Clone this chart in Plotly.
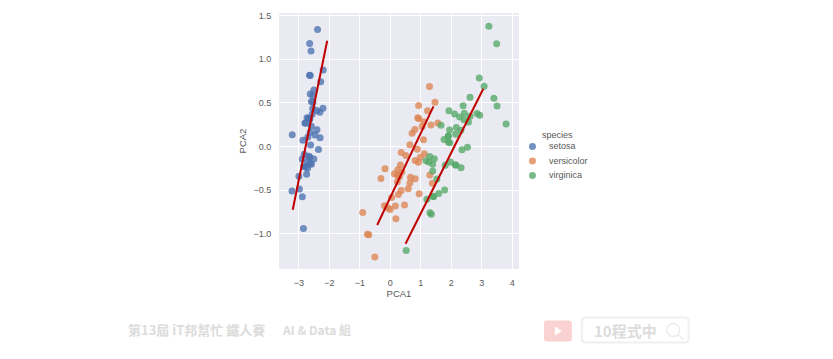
import plotly.graph_objects as go

W, H = 833, 359
L, R, T, B = 278.5, 519.0, 12.7, 269.3

# Values
setosa_pca1 = [-2.684,-2.714,-2.889,-2.745,-2.729,-2.281,-2.821,-2.626,-2.886,-2.673,-2.507,-2.613,-2.786,-3.224,-2.645,-2.386,-2.624,-2.648,-2.200,-2.588,-2.310,-2.544,-3.216,-2.303,-2.356,-2.507,-2.469,-2.562,-2.640,-2.632,-2.587,-2.410,-2.649,-2.599,-2.637,-2.866,-2.625,-2.801,-2.981,-2.590,-2.770,-2.849,-2.997,-2.406,-2.209,-2.714,-2.538,-2.839,-2.543,-2.703]
setosa_pca2 = [0.319,-0.177,-0.145,-0.318,0.327,0.741,-0.089,0.163,-0.578,-0.114,0.645,0.015,-0.235,-0.511,1.179,1.338,0.811,0.312,0.873,0.514,0.391,0.433,0.133,0.099,-0.037,-0.146,0.131,0.368,0.312,-0.197,-0.204,0.411,0.813,1.093,-0.121,0.069,0.599,0.269,-0.488,0.229,0.264,-0.941,-0.342,0.189,0.437,-0.250,0.504,-0.228,0.579,0.108]
versicolor_pca1 = [1.285,0.932,1.464,0.183,1.088,0.642,1.095,-0.749,1.044,-0.009,-0.508,0.512,0.265,0.985,-0.174,0.928,0.660,0.236,0.945,0.045,1.116,0.358,1.298,0.922,0.715,0.900,1.332,1.558,0.813,-0.306,-0.068,-0.190,0.136,1.380,0.588,0.807,1.221,0.815,0.246,0.166,0.465,0.891,0.231,-0.705,0.357,0.332,0.376,0.643,-0.906,0.299]
versicolor_pca2 = [0.685,0.318,0.504,-0.828,0.075,-0.418,0.283,-1.005,0.228,-0.723,-1.266,-0.104,-0.550,-0.125,-0.255,0.467,-0.353,-0.334,-0.543,-0.584,-0.085,-0.069,-0.328,-0.183,0.149,0.329,0.244,0.267,-0.163,-0.368,-0.705,-0.680,-0.314,-0.421,-0.484,0.194,0.408,-0.372,-0.269,-0.682,-0.671,-0.034,-0.404,-1.012,-0.505,-0.213,-0.293,0.018,-0.756,-0.349]
virginica_pca1 = [2.531,1.415,2.617,1.972,2.350,3.397,0.521,2.933,2.321,2.917,1.662,1.803,2.166,1.346,1.586,1.904,1.950,3.487,3.796,1.301,2.428,1.199,3.500,1.389,2.275,2.614,1.259,1.291,2.124,2.388,2.842,3.231,2.159,1.444,1.781,3.076,2.144,1.905,1.169,2.108,2.314,1.922,1.415,2.563,2.419,1.944,1.527,1.764,1.901,1.390]
virginica_pca2 = [-0.010,-0.575,0.344,-0.180,-0.040,0.551,-1.193,0.356,-0.244,0.783,0.242,-0.216,0.216,-0.777,-0.540,0.119,0.042,1.176,0.257,-0.761,0.378,-0.606,0.461,-0.204,0.335,0.561,-0.180,-0.117,-0.210,0.465,0.375,1.374,-0.217,-0.143,-0.500,0.688,0.140,0.049,-0.165,0.372,0.184,0.409,-0.575,0.278,0.305,0.188,-0.375,0.079,0.117,-0.283]
setosa_line_x, setosa_line_y = [-3.2, -2.07], [-0.725, 1.21]
versicolor_line_x, versicolor_line_y = [-0.43, 1.415], [-0.90, 0.458]
virginica_line_x, virginica_line_y = [0.5, 3.05], [-1.115, 0.66]
species = ["setosa", "versicolor", "virginica"]
colors = ["#4c72b0", "#dd8452", "#55a868"]
x_ticks = [-3, -2, -1, 0, 1, 2, 3, 4]
y_ticks = [-1.0, -0.5, 0.0, 0.5, 1.0, 1.5]
watermark_left = "第13屆 iT邦幫忙 鐵人賽"
watermark_mid = "AI & Data 組"
watermark_right = "10程式中"

TEXT = "#595959"
FONT = "Liberation Sans, Arial, sans-serif"
CJK = "Noto Sans CJK TC, sans-serif"

def px(x): return (x - L) / (R - L)
def py(y): return (B - y) / (B - T)

def rounded(x0, y0, x1, y1, r):
    pts = [f"M {px(x0 + r)} {py(y0)}", f"L {px(x1 - r)} {py(y0)}",
           f"Q {px(x1)} {py(y0)} {px(x1)} {py(y0 + r)}", f"L {px(x1)} {py(y1 - r)}",
           f"Q {px(x1)} {py(y1)} {px(x1 - r)} {py(y1)}", f"L {px(x0 + r)} {py(y1)}",
           f"Q {px(x0)} {py(y1)} {px(x0)} {py(y1 - r)}", f"L {px(x0)} {py(y0 + r)}",
           f"Q {px(x0)} {py(y0)} {px(x0 + r)} {py(y0)} Z"]
    return " ".join(pts)

fig = go.Figure()
for name, xs, ys, c in zip(species,
                           [setosa_pca1, versicolor_pca1, virginica_pca1],
                           [setosa_pca2, versicolor_pca2, virginica_pca2], colors):
    fig.add_trace(go.Scatter(x=xs, y=ys, mode="markers", name=name, showlegend=False,
                             marker=dict(color=c, size=7, opacity=0.78, line=dict(width=0))))
for xs, ys in [(setosa_line_x, setosa_line_y), (versicolor_line_x, versicolor_line_y),
               (virginica_line_x, virginica_line_y)]:
    fig.add_trace(go.Scatter(x=xs, y=ys, mode="lines", showlegend=False,
                             line=dict(color="#c00000", width=2)))

shapes, ann = [], []
def text(x, y, s, size, color=TEXT, anchor="left", family=FONT, bold=False):
    ann.append(dict(xref="paper", yref="paper", x=px(x), y=py(y), text=f"<b>{s}</b>" if bold else s,
                    showarrow=False, xanchor=anchor, yanchor="middle",
                    font=dict(size=size, color=color, family=family)))

# legend
text(540, 134.5, "species", 9)
for name, c, yy in zip(species, colors, [146.5, 161, 175.5]):
    shapes.append(dict(type="circle", xref="paper", yref="paper", x0=px(529), x1=px(536),
                       y0=py(yy + 3.5), y1=py(yy - 3.5), fillcolor=c, opacity=0.78, line_width=0))
    text(547, yy, name, 9)

# footer watermark
GREY = "#dcdcdc"
text(125, 330, watermark_left, 13, GREY, family=CJK, bold=True)
text(280, 330, watermark_mid, 12, GREY, family=CJK, bold=True)
shapes.append(dict(type="path", xref="paper", yref="paper", path=rounded(544, 321, 572, 342, 3),
                   fillcolor="#fbd2d2", line_width=0))
shapes.append(dict(type="path", xref="paper", yref="paper",
                   path=f"M {px(555)} {py(327)} L {px(555)} {py(336)} L {px(562)} {py(331.5)} Z",
                   fillcolor="#ffffff", line_width=0))
shapes.append(dict(type="path", xref="paper", yref="paper", path=rounded(582, 318, 689, 343, 4),
                   fillcolor="rgba(0,0,0,0)", line=dict(color="#f0f0f0", width=2)))
text(592, 331, watermark_right, 15, "#dcdcdc", family=CJK, bold=True)
shapes.append(dict(type="circle", xref="paper", yref="paper", x0=px(667), x1=px(680), y0=py(337), y1=py(324),
                   fillcolor="rgba(0,0,0,0)", line=dict(color="#ececec", width=1.5)))
shapes.append(dict(type="line", xref="paper", yref="paper", x0=px(678), x1=px(684), y0=py(335), y1=py(340),
                   line=dict(color="#ececec", width=1.5)))

axis = dict(showline=False, zeroline=False, gridcolor="#ffffff", gridwidth=1.1,
            ticks="outside", ticklen=5, tickcolor="rgba(0,0,0,0)",
            tickfont=dict(size=9, color=TEXT, family=FONT))
fig.update_layout(
    width=W, height=H, paper_bgcolor="#ffffff", plot_bgcolor="#eaeaf2", showlegend=False,
    margin=dict(l=L, r=W - R, t=T, b=H - B, autoexpand=False),
    xaxis=dict(axis, range=[-3.65, 4.22], tickmode="array", tickvals=x_ticks,
               title=dict(text="PCA1", standoff=3, font=dict(size=9.5, color=TEXT, family=FONT))),
    yaxis=dict(axis, range=[-1.404, 1.527], tickmode="array", tickvals=y_ticks,
               ticktext=[f"{v:.1f}".replace("-", "−") for v in y_ticks],
               title=dict(text="PCA2", standoff=5, font=dict(size=9.5, color=TEXT, family=FONT))),
    shapes=shapes, annotations=ann,
)
fig.write_html("out.html", config={"displayModeBar": False},
               post_script="document.body.style.margin='0';")
